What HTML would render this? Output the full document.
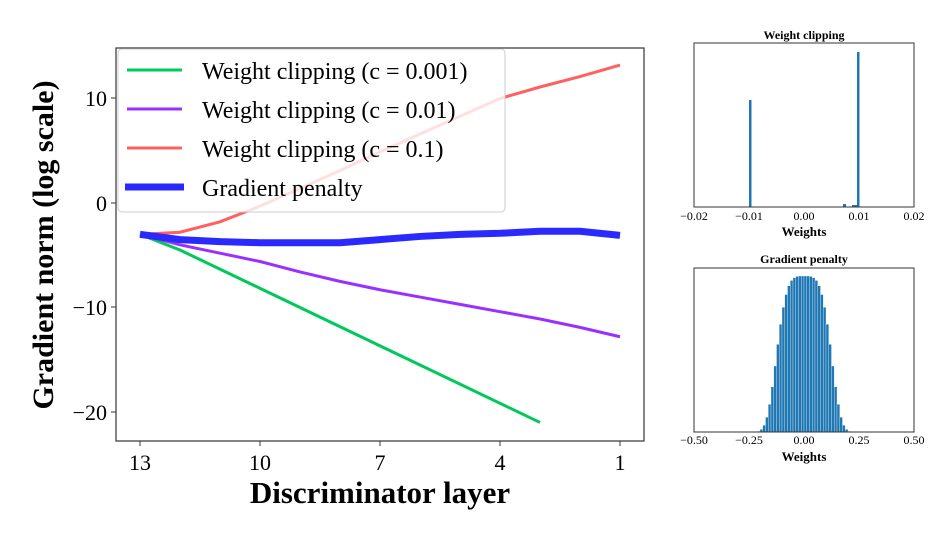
<!DOCTYPE html>
<html><head><meta charset="utf-8"><style>
body{margin:0;background:#fff;}
svg text{font-family:"Liberation Serif",serif;}
</style></head><body>
<svg id="s" width="941" height="528" xmlns="http://www.w3.org/2000/svg">
<rect width="941" height="528" fill="#fff"/>
<g id="main"></g>
<rect x="116" y="48" width="528" height="393" fill="none" stroke="#333" stroke-width="1.2"/>
<g font-size="22" text-anchor="middle" fill="#000">
<text x="140" y="470">13</text><text x="260" y="470">10</text><text x="380" y="470">7</text><text x="500" y="470">4</text><text x="620" y="470">1</text>
</g>
<g stroke="#333"><line x1="140" y1="441" x2="140" y2="446"/><line x1="260" y1="441" x2="260" y2="446"/><line x1="380" y1="441" x2="380" y2="446"/><line x1="500" y1="441" x2="500" y2="446"/><line x1="620" y1="441" x2="620" y2="446"/>
<line x1="111" y1="98" x2="116" y2="98"/><line x1="111" y1="203" x2="116" y2="203"/><line x1="111" y1="307" x2="116" y2="307"/><line x1="111" y1="412" x2="116" y2="412"/></g>
<g font-size="22" text-anchor="end"><text x="107" y="106">10</text><text x="107" y="211">0</text><text x="107" y="315">−10</text><text x="107" y="420">−20</text></g>
<text x="380" y="503" font-size="31" font-weight="bold" text-anchor="middle">Discriminator layer</text>
<text transform="translate(53,245) rotate(-90)" font-size="30" font-weight="bold" text-anchor="middle">Gradient norm (log scale)</text>
<rect x="118" y="49" width="387" height="163" rx="4" fill="#fff" fill-opacity="0.8" stroke="#ccc"/>
<g><line x1="127" y1="70" x2="182" y2="70" stroke="#00c85a" stroke-width="3"/>
<line x1="127" y1="109" x2="182" y2="109" stroke="#9a30ff" stroke-width="3"/>
<line x1="127" y1="148" x2="182" y2="148" stroke="#ff6060" stroke-width="3"/>
<line x1="125" y1="187" x2="184" y2="187" stroke="#2a2aff" stroke-width="7"/></g>
<g font-size="24"><text x="202" y="79">Weight clipping (c = 0.001)</text><text x="202" y="118">Weight clipping (c = 0.01)</text><text x="202" y="157">Weight clipping (c = 0.1)</text><text x="202" y="196">Gradient penalty</text></g>
<text x="804" y="39" font-size="12" font-weight="bold" text-anchor="middle">Weight clipping</text>
<rect x="749" y="100" width="2.5" height="107" fill="#1f77b4"/>
<rect x="857" y="52" width="2.5" height="155" fill="#1f77b4"/>
<rect x="843" y="204" width="3" height="3" fill="#1f77b4"/><rect x="852" y="205" width="5" height="2" fill="#1f77b4"/>
<rect x="694" y="43" width="220" height="164" fill="none" stroke="#333"/>
<g font-size="12" text-anchor="middle"><text x="694" y="220">−0.02</text><text x="749" y="220">−0.01</text><text x="804" y="220">0.00</text><text x="859" y="220">0.01</text><text x="914" y="220">0.02</text>
<text x="804" y="236" font-weight="bold" font-size="13">Weights</text>
<text x="804" y="263" font-weight="bold">Gradient penalty</text>
<text x="694" y="444">−0.50</text><text x="749" y="444">−0.25</text><text x="804" y="444">0.00</text><text x="859" y="444">0.25</text><text x="914" y="444">0.50</text>
<text x="804" y="461" font-weight="bold" font-size="13">Weights</text></g>
<g id="h2"></g>
<rect x="694" y="268" width="220" height="164" fill="none" stroke="#333"/>
</svg>
<script>
var ns="http://www.w3.org/2000/svg",m=document.getElementById("main");
function X(l){return 140+(13-l)*40}function Y(v){return 203-v*10.45}
function line(pts,c,w){var p=document.createElementNS(ns,"polyline");p.setAttribute("points",pts.map(function(a){return X(a[0])+","+Y(a[1])}).join(" "));p.setAttribute("fill","none");p.setAttribute("stroke",c);p.setAttribute("stroke-width",w);m.appendChild(p);}
line([[13,-3],[12,-4.5],[3,-21]],"#00c85a",3);
line([[13,-3],[12,-4],[11,-4.8],[10,-5.6],[9,-6.6],[8,-7.5],[7,-8.3],[6,-9],[5,-9.7],[4,-10.4],[3,-11.1],[2,-11.9],[1,-12.8]],"#9a30ff",3);
line([[13,-3],[12,-2.8],[11,-1.8],[10,-0.3],[9,1.4],[8,3.1],[7,4.9],[6,6.6],[5,8.3],[4,10],[3,11.1],[2,12.1],[1,13.2]],"#ff6060",3);
line([[13,-3],[12,-3.5],[11,-3.7],[10,-3.8],[9,-3.8],[8,-3.8],[7,-3.5],[6,-3.2],[5,-3],[4,-2.9],[3,-2.7],[2,-2.7],[1,-3.1]],"#2a2aff",7);
var h=document.getElementById("h2");
for(var x=-0.25;x<0.25;x+=0.0125){var c=x+0.00625,t=c/0.1,v=156*Math.exp(-0.29*t*t*t*t);if(v<0.5)continue;
var r=document.createElementNS(ns,"rect");r.setAttribute("x",804+x*220);r.setAttribute("width",2.75);r.setAttribute("y",432-v);r.setAttribute("height",v);r.setAttribute("fill","#1f77b4");r.setAttribute("stroke","#fff");r.setAttribute("stroke-width","0.3");h.appendChild(r);}
</script>
</body></html>
